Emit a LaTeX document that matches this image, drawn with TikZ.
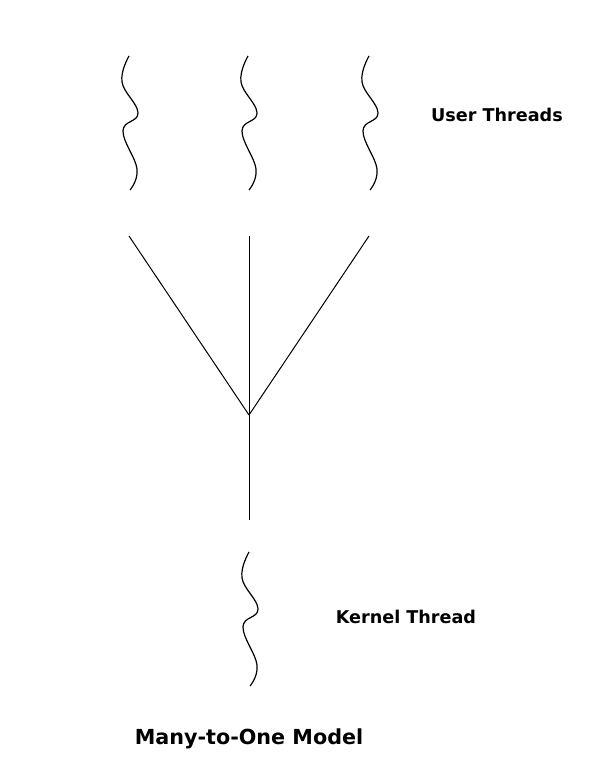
\documentclass[tikz,border=0pt]{standalone}
\usepackage{fontspec}
\setmainfont{DejaVu Sans}
\usepackage{tikz}
\usetikzlibrary{positioning}
\tikzset{
    every node/.style={font=\bfseries\fontsize{17.6}{21}\selectfont},
    thread/.pic={
        \draw[line width=1.2pt] plot[smooth,tension=0.7] coordinates
            {(0,0) (-7,26) (9,57) (-6,75) (8,113) (1,134)};
    }
}

\begin{document}
\begin{tikzpicture}[x={(1pt,0)},y={(0,-1pt)}]
            % Define styles
            \tikzstyle{branch} = [draw, line width=1pt]
            \tikzstyle{label} = [inner sep=0pt, anchor=center]

            % Page frame
            \useasboundingbox (0,0) rectangle (595,781);

            % User threads
            \pic at (129,56) {thread};
            \pic at (248,56) {thread};
            \pic at (369,56) {thread};
            \node[label] (user) at (497,115) {User Threads};

            % Mapping lines
            \coordinate (u1) at (129,236);
            \coordinate (u2) at (249,236);
            \coordinate (u3) at (369,236);
            \coordinate (join) at (249,415);
            \coordinate (down) at (249,520);
            \draw[branch] (u1) -- (join);
            \draw[branch] (u3) -- (join);
            \draw[branch] (u2) -- (down);

            % Kernel thread
            \pic at (249,552) {thread};
            \node[label] (kernel) at (406,617) {Kernel Thread};

            % Title
            \node[label,font=\bfseries\fontsize{20.7}{24}\selectfont] (title)
                at (249,739) {Many-to-One Model};
        \end{tikzpicture}
\end{document}
